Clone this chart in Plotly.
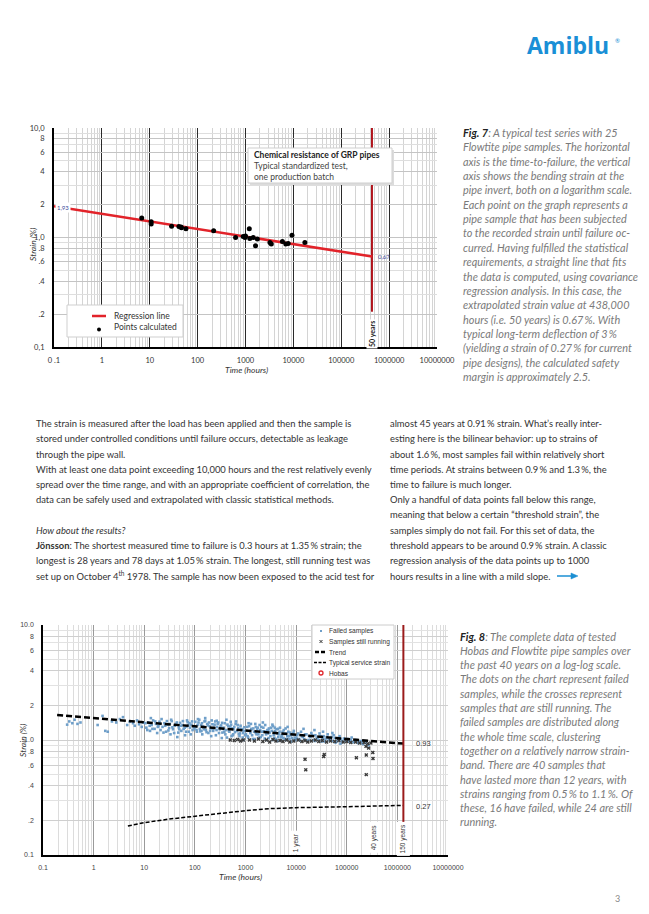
import math
import plotly.graph_objects as go

# The page body keeps the browser's default 8px margin, so the figure is drawn 16px
# smaller and every page position (in window pixels) is mapped through OFF.
OFF = 8
FW, FH = 649 - 2 * OFF, 914 - 2 * OFF
def X(px): return (px - OFF) / FW
def Y(py): return 1 - (py - OFF) / FH

# ---------------- Fig. 7 data ----------------
reg_time = [0.1, 438000]
reg_strain = [1.93, 0.67]
calc_time = [6.8, 10.7, 10.7, 28.6, 40.7, 45, 46, 57, 216, 621, 895, 977, 1000,
             1200, 1230, 1450, 1620, 1770, 3240, 3460, 5900, 6950, 7800, 9350, 17400]
calc_strain = [1.51, 1.39, 1.33, 1.27, 1.26, 1.25, 1.23, 1.20, 1.15, 1.00, 1.02, 1.00, 1.03,
               1.20, 0.98, 1.00, 0.84, 0.97, 0.90, 0.87, 0.92, 0.87, 0.88, 1.05, 0.90]
fifty_years_h = 438000

# ---------------- Fig. 8 data ----------------
failed_time = [
    0.30, 0.33, 0.38, 0.42, 0.48, 0.55,
    1.2, 1.5, 1.7, 1.9, 2.3, 2.8, 3.3, 3.8, 4.6, 5.2, 6.0, 6.5, 7.2, 7.9, 8.9, 9.5,
    11, 12, 13, 14, 15, 16, 17, 18, 19, 20, 21, 23, 25, 27, 29, 31, 33, 35, 37, 40, 42, 45, 48, 51,
    54, 57, 60, 64, 68, 72, 76, 80, 85, 90, 95, 13.5, 22, 34, 47, 70,
    10.5, 11.5, 12.8, 14.5, 16.5, 18.5, 20.5, 24, 26, 28, 30, 32, 36, 39, 44, 49, 53, 58, 63, 67,
    74, 78, 83, 88, 98,
    105, 110, 118, 125, 132, 140, 148, 155, 165, 175, 185, 195, 205, 215, 230, 245, 260, 275, 290, 310,
    330, 350, 370, 390, 410, 430, 455, 480, 510, 540, 570, 600, 640, 680, 720, 760, 800, 850, 900, 950,
    115, 160, 210, 270, 340, 420, 520, 650, 780, 920, 135, 230, 380, 560, 870,
    102, 108, 113, 122, 128, 138, 145, 152, 160, 170, 180, 190, 200, 222, 238, 252, 268, 282, 300, 320,
    345, 360, 400, 440, 470, 500, 530, 580, 620, 700, 740, 820, 880, 940, 990,
    1050, 1100, 1180, 1250, 1320, 1400, 1480, 1560, 1650, 1750, 1850, 1950, 2050, 2150, 2300, 2450,
    2600, 2750, 2900, 3100, 3300, 3500, 3700, 3900, 4100, 4300, 4550, 4800, 5100, 5400, 5700, 6000,
    6400, 6800, 7200, 7600, 8000, 8500, 9000, 9500,
    1150, 1600, 2200, 2800, 3400, 4400, 5200, 6600, 7800, 9200, 1300, 2500, 3800, 6200, 8800,
    1020, 1080, 1130, 1220, 1280, 1350, 1430, 1520, 1600, 1700, 1800, 1900, 2000, 2100, 2250, 2400,
    2550, 2700, 2850, 3000, 3200, 3400, 3600, 3800, 4000, 4200, 4450, 4700, 5000, 5300, 5600, 5900,
    6300, 6700, 7000, 7400, 7900, 8300, 8700, 9700,
    10500, 11500, 12500, 13500, 15000, 16500, 18000, 20000, 22000, 24000, 26500, 29000, 32000, 35000,
    38000, 42000, 46000, 50000, 55000, 60000, 66000, 72000, 80000, 88000, 96000,
    14000, 23000, 34000, 52000, 75000,
    10200, 11000, 12000, 13000, 14500, 16000, 17500, 19000, 21000, 23500, 25500, 28000, 30500, 33500,
    37000, 40000, 44000, 48000, 53000, 58000, 63000, 69000, 76000, 84000, 92000,
    105000, 115000, 125000, 140000, 155000, 170000, 190000, 210000, 240000, 270000,
    110000, 120000, 135000, 150000, 165000, 180000, 200000, 230000]
failed_strain = [
    1.36, 1.45, 1.40, 1.50, 1.38, 1.42,
    1.35, 1.62, 1.20, 1.18, 1.45, 1.42, 1.52, 1.58, 1.35, 1.44, 1.40, 1.33, 1.48, 1.37, 1.30, 1.42,
    1.28, 1.42, 1.20, 1.35, 1.48, 1.25, 1.38, 1.15, 1.32, 1.44, 1.22, 1.30, 1.40, 1.18, 1.36, 1.27,
    1.12, 1.46, 1.24, 1.33, 1.38, 1.06, 1.29, 1.41, 1.20, 1.35, 1.25, 1.10, 1.31, 1.43, 1.18, 1.28,
    1.36, 1.22, 1.30, 1.55, 1.52, 1.50, 1.16, 1.48,
    1.40, 1.22, 1.33, 1.25, 1.45, 1.30, 1.38, 1.16, 1.33, 1.46, 1.21, 1.38, 1.29, 1.15, 1.42, 1.24,
    1.33, 1.46, 1.28, 1.18, 1.34, 1.40, 1.12, 1.45, 1.26,
    1.30, 1.18, 1.42, 1.25, 1.35, 1.12, 1.28, 1.45, 1.22, 1.38, 1.15, 1.32, 1.26, 1.48, 1.20, 1.36,
    1.10, 1.30, 1.42, 1.24, 1.34, 1.16, 1.28, 1.40, 1.22, 1.05, 1.32, 1.18, 1.44, 1.26, 1.12, 1.30,
    1.38, 1.20, 1.27, 1.08, 1.33, 1.22, 1.15, 1.29,
    1.52, 1.55, 1.08, 1.47, 1.04, 1.50, 1.36, 1.45, 1.14, 1.00, 1.20, 1.25, 1.18, 1.10, 1.24,
    1.44, 1.22, 1.35, 1.50, 1.19, 1.40, 1.31, 1.24, 1.47, 1.17, 1.34, 1.42, 1.20, 1.37, 1.28, 1.45,
    1.22, 1.38, 1.15, 1.30, 1.41, 1.25, 1.12, 1.36, 1.20, 1.31, 1.08, 1.24, 1.17, 1.35, 1.13, 1.25,
    1.05, 1.20, 1.10,
    1.20, 1.08, 1.32, 1.15, 1.25, 1.02, 1.18, 1.38, 1.12, 1.28, 1.05, 1.22, 1.30, 1.10, 1.19, 1.35,
    1.00, 1.14, 1.26, 1.08, 1.20, 1.32, 1.04, 1.16, 1.24, 0.98, 1.12, 1.28, 1.06, 1.18, 1.22, 1.02,
    1.14, 1.30, 1.08, 1.16, 0.97, 1.12, 1.20, 1.05,
    1.40, 1.30, 1.42, 1.22, 1.36, 1.25, 1.10, 1.02, 1.12, 1.00, 1.24, 1.18, 1.28, 1.26, 1.15,
    1.12, 1.30, 1.05, 1.20, 1.38, 1.10, 1.26, 1.02, 1.15, 1.24, 1.12, 1.35, 1.06, 1.18, 1.28, 1.03,
    1.12, 1.22, 1.04, 1.16, 1.28, 1.00, 1.10, 1.20, 1.02, 1.14, 1.06, 1.18, 1.00, 1.10, 1.04, 1.14,
    1.00, 1.08, 1.18, 1.02, 1.10, 1.04, 1.14, 1.00,
    1.10, 1.02, 1.18, 1.06, 1.12, 0.98, 1.08, 1.15, 1.00, 1.10, 1.05, 1.14, 0.97, 1.08,
    1.02, 1.12, 0.99, 1.06, 1.10, 0.95, 1.04, 1.08, 0.98, 1.03, 1.00,
    1.25, 1.22, 1.18, 1.15, 0.93,
    1.04, 1.14, 0.99, 1.08, 1.02, 1.12, 1.00, 1.06, 1.10, 0.98, 1.04, 1.00, 1.08, 1.03,
    0.97, 1.06, 1.02, 1.00, 0.98, 1.04, 0.97, 1.00, 1.02, 0.96, 0.99,
    1.02, 0.98, 1.05, 0.96, 1.00, 0.94, 0.98, 0.92, 0.95, 0.90,
    0.97, 1.00, 0.96, 0.98, 0.95, 0.97, 0.94, 0.96]

running_time = [500, 600, 700, 800, 900,
                1200, 1500, 1800, 2200, 2600, 3000, 3500, 4000, 4800, 5500, 6500, 7500, 9000,
                11000, 13000, 15000, 17000, 20000, 24000, 28000, 33000, 40000, 48000, 58000,
                70000, 85000, 100000, 120000, 150000, 180000, 220000, 260000, 300000,
                15000, 15500, 35000, 36000, 155000, 243000, 243000, 327000, 330000, 240000, 270000]
running_strain = [1.00, 0.99, 1.01, 0.98, 1.00,
                  1.00, 0.98, 1.02, 0.97, 1.00, 0.96, 1.01, 0.98, 0.99, 0.97, 1.00, 0.96, 0.98,
                  1.00, 0.97, 0.99, 0.96, 0.98, 1.00, 0.97, 0.99, 0.96, 0.98, 0.97,
                  0.99, 0.96, 0.97, 0.95, 0.96, 0.94, 0.95, 0.93, 0.94,
                  0.68, 0.55, 0.72, 0.75, 0.70, 0.50, 0.74, 0.78, 0.69, 0.88, 0.85]

hobas_time = [280, 1260, 1400, 2130, 2130, 2400, 3400, 4250, 4100, 5900, 1560, 1900, 2220, 2350,
              4050, 7800, 9000, 10500, 11700, 12600, 16000, 17000, 17500, 18000, 18500, 19000, 19500,
              20000, 17200, 18200, 19200, 16500, 17800, 18800, 17000, 19000, 17500, 19500,
              29000, 33000, 38000, 44000, 63000, 72000, 93000, 117000, 214000, 250000, 240000]
hobas_strain = [1.63, 1.35, 1.38, 1.48, 1.41, 1.35, 1.44, 1.56, 1.35, 1.34, 1.17, 1.22, 1.20, 0.99,
                1.02, 1.20, 1.45, 1.43, 1.07, 1.10, 1.32, 1.38, 1.35, 1.40, 1.30, 1.36, 1.33,
                1.38, 1.28, 1.42, 1.30, 1.25, 1.34, 1.27, 1.20, 1.12, 1.04, 0.99,
                1.36, 1.40, 1.32, 1.38, 1.20, 1.25, 1.46, 1.27, 1.40, 0.87, 0.94]

trend_time = [0.19, 1314000]
trend_strain = [1.65, 0.93]
service_time = [4.75, 10, 30, 100, 300, 1000, 3000, 10000, 100000, 1314000]
service_strain = [0.179, 0.191, 0.205, 0.218, 0.231, 0.243, 0.253, 0.258, 0.263, 0.27]
one_year_h = 8760
forty_years_h = 350400
hundred_fifty_years_h = 1314000

# ---------------- ticks ----------------
x_ticks = [0.1, 1, 10, 100, 1000, 10000, 100000, 1000000, 10000000]
fig7_x_labels = ['0 .1', '1', '10', '100', '1000', '10000', '100000', '1000000', '10000000']
fig8_x_labels = ['0.1', '1', '10', '100', '1000', '10000', '100000', '1000000', '10000000']
y_ticks = [0.1, 0.2, 0.4, 0.6, 0.8, 1, 2, 4, 6, 8, 10]
fig7_y_labels = ['0,1', '.2', '.4', '.6', '.8', '1,0', '2', '4', '6', '8', '10,0']
fig8_y_labels = ['0.1', '.2', '.4', '.6', '.8', '1.0', '2', '4', '6', '8', '10.0']

x_minor = [k * 10 ** d for d in range(-1, 7) for k in range(2, 10)]
y_minor = [k * 10 ** d for d in range(-1, 1) for k in (3, 5, 7, 9)]

RED = '#e2232a'
DARKRED = '#b0141c'
BLUE_LABEL = '#3b4a9a'
TXT = 'Lato'

fig = go.Figure()

# ---- Fig 7 traces ----
fig.add_trace(go.Scatter(x=[fifty_years_h, fifty_years_h], y=[10, 0.21], mode='lines',
                         line=dict(color=DARKRED, width=2), xaxis='x', yaxis='y', showlegend=False))
fig.add_trace(go.Scatter(x=reg_time, y=reg_strain, mode='lines', line=dict(color=RED, width=2.5),
                         xaxis='x', yaxis='y', showlegend=False))
fig.add_trace(go.Scatter(x=calc_time, y=calc_strain, mode='markers',
                         marker=dict(color='black', size=5), xaxis='x', yaxis='y', showlegend=False))

# ---- Fig 8 traces ----
fig.add_trace(go.Scatter(x=failed_time, y=failed_strain, mode='markers',
                         marker=dict(color='#6f9fc9', size=2.6, symbol='square'),
                         xaxis='x2', yaxis='y2', showlegend=False))
fig.add_trace(go.Scatter(x=running_time, y=running_strain, mode='markers',
                         marker=dict(color='#3a3a3a', size=3.5, symbol='x'),
                         xaxis='x2', yaxis='y2', showlegend=False))
fig.add_trace(go.Scatter(x=trend_time, y=trend_strain, mode='lines',
                         line=dict(color='black', width=2.5, dash='6px,3px'),
                         xaxis='x2', yaxis='y2', showlegend=False))
fig.add_trace(go.Scatter(x=service_time, y=service_strain, mode='lines',
                         line=dict(color='black', width=1.5, dash='4px,2px'),
                         xaxis='x2', yaxis='y2', showlegend=False))
fig.add_trace(go.Scatter(x=hobas_time, y=hobas_strain, mode='markers',
                         marker=dict(color='rgba(0,0,0,0)', size=5, symbol='circle-open',
                                     line=dict(color='#e0262c', width=1.3)),
                         xaxis='x2', yaxis='y2', showlegend=False))
fig.add_trace(go.Scatter(x=[hundred_fifty_years_h, hundred_fifty_years_h], y=[10, 0.19], mode='lines',
                         line=dict(color='#9b1b1b', width=2), xaxis='x2', yaxis='y2', showlegend=False))

def xaxis_cfg(domain, labels, major_col, major_w, minor_col, lw, font):
    return dict(type='log', range=[-1, 7], domain=domain, tickmode='array', tickvals=x_ticks,
                ticktext=labels, showgrid=True, gridcolor=major_col, gridwidth=major_w,
                minor=dict(tickvals=x_minor, showgrid=True, gridcolor=minor_col, gridwidth=1, ticks=''),
                showline=True, linecolor='black', linewidth=lw, zeroline=False, ticks='',
                ticklabelstandoff=5, tickfont=font, fixedrange=True, automargin=False)

def yaxis_cfg(domain, labels, major_col, minor_col, lw, font):
    return dict(type='log', range=[-1, 1], domain=domain, tickmode='array', tickvals=y_ticks,
                ticktext=labels, showgrid=True, gridcolor=major_col, gridwidth=1,
                minor=dict(tickvals=y_minor, showgrid=True, gridcolor=minor_col, gridwidth=1, ticks=''),
                showline=True, linecolor='black', linewidth=lw, zeroline=False, ticks='',
                ticklabelstandoff=6, tickfont=font, fixedrange=True, automargin=False)

f7font = dict(family=TXT, size=7.5, color='#333')
f8font = dict(family='Liberation Sans', size=7, color='#444')

layout = dict(
    width=FW, height=FH, margin=dict(l=0, r=0, t=0, b=0, autoexpand=False),
    paper_bgcolor='white', plot_bgcolor='white', showlegend=False,
    xaxis=xaxis_cfg([X(54), X(437)], fig7_x_labels, '#2a2a2a', 1.2, '#d4d4d4', 2, f7font),
    yaxis=yaxis_cfg([Y(347), Y(128)], fig7_y_labels, '#c4c4c4', '#dedede', 2, f7font),
    xaxis2=xaxis_cfg([X(43), X(448)], fig8_x_labels, '#9a9a9a', 1.3, '#dcdcdc', 1.5, f8font),
    yaxis2=yaxis_cfg([Y(855), Y(625)], fig8_y_labels, '#cfcfcf', '#e2e2e2', 1.5, f8font),
)
layout['xaxis']['anchor'] = 'y'
layout['yaxis']['anchor'] = 'x'
layout['xaxis2']['anchor'] = 'y2'
layout['yaxis2']['anchor'] = 'x2'
fig.update_layout(**layout)

ann = []
shapes = []

def T(x, y, text, size=9, color='#333', family=TXT, xanchor='left', **kw):
    a = dict(x=X(x), y=Y(y), xref='paper', yref='paper', text=text, showarrow=False,
             xanchor=xanchor, yanchor='middle', font=dict(family=family, size=size, color=color))
    a.update(kw)
    ann.append(a)

# ---- logo & page number ----
T(525, 45, '<b>Amiblu</b>', size=23, color='#1a8fd6', family='Open Sans')
T(613, 40, '®', size=6, color='#1a8fd6')
T(617, 898, '3', size=9, color='#888', xanchor='center')

# ---- Fig 7 annotations ----
T(33, 245, '<i>Strain (%)</i>', size=8.5, color='#333', xanchor='center', textangle=-90)
T(246, 370, '<i>Time (hours)</i>', size=8.5, color='#333', xanchor='center')
T(63, 207, '1,93', size=6, color=BLUE_LABEL, xanchor='center', bgcolor='white', borderpad=1)
T(376, 257, '0,67', size=6, color=BLUE_LABEL, xanchor='left')
ann.append(dict(x=math.log10(fifty_years_h), xref='x', y=Y(334), yref='paper', text='<b>50 years</b>',
                textangle=-90, showarrow=False, xanchor='center', yanchor='middle',
                font=dict(family=TXT, size=7, color='#222'), bgcolor='white', borderpad=1))

# title box
shapes.append(dict(type='rect', xref='paper', yref='paper', x0=X(250), x1=X(394), y0=Y(150), y1=Y(185),
                   fillcolor='#dcdcdc', line=dict(width=0), layer='above'))
shapes.append(dict(type='rect', xref='paper', yref='paper', x0=X(248), x1=X(392), y0=Y(148), y1=Y(183),
                   fillcolor='white', line=dict(color='#cfcfcf', width=1), layer='above'))
T(252, 155.5, '<b>Chemical resistance of GRP pipes</b>', size=8.5, color='#222')
T(252, 166.5, 'Typical standardized test,', size=8.5, color='#444')
T(252, 177.5, 'one production batch', size=8.5, color='#444')

# legend box fig 7
shapes.append(dict(type='rect', xref='paper', yref='paper', x0=X(67), x1=X(183), y0=Y(305), y1=Y(337),
                   fillcolor='white', line=dict(color='#cfcfcf', width=1), layer='above'))
shapes.append(dict(type='line', xref='paper', yref='paper', x0=X(92), x1=X(106), y0=Y(316), y1=Y(316),
                   line=dict(color=RED, width=2.5), layer='above'))
shapes.append(dict(type='circle', xref='paper', yref='paper', x0=X(97), x1=X(101), y0=Y(327.5), y1=Y(331.5),
                   fillcolor='black', line=dict(width=0), layer='above'))
T(112, 316, 'Regression line', size=8.5, color='#333')
T(112, 327, 'Points calculated', size=8.5, color='#333')

# ---- Fig 8 annotations ----
T(23, 740, '<i>Strain (%)</i>', size=8.5, color='#333', xanchor='center', textangle=-90)
T(240, 877, '<i>Time (hours)</i>', size=8.5, color='#333', xanchor='center')
T(414, 743, '0.93', size=7.5, color='#333', family='Liberation Sans')
T(414, 806, '0.27', size=7.5, color='#333', family='Liberation Sans')
for t_h, yc, label, shift in [(one_year_h, 843, '1 year', 3), (forty_years_h, 837, '40 years', 0),
                              (hundred_fifty_years_h, 839, '150 years', 0)]:
    ann.append(dict(x=math.log10(t_h), xref='x2', y=Y(yc), yref='paper', text=label, textangle=-90,
                    showarrow=False, xanchor='center', yanchor='middle', xshift=shift,
                    font=dict(family='Liberation Sans', size=6.5, color='#333'), bgcolor='white', borderpad=2))

# legend box fig 8
shapes.append(dict(type='rect', xref='paper', yref='paper', x0=X(312), x1=X(394), y0=Y(625), y1=Y(679),
                   fillcolor='white', line=dict(color='#cccccc', width=1), layer='above'))
leg_rows = [631, 641.5, 652, 662.5, 673]
shapes.append(dict(type='rect', xref='paper', yref='paper', x0=X(320), x1=X(322), y0=Y(630), y1=Y(632),
                   fillcolor='#6f9fc9', line=dict(width=0), layer='above'))
for dx0, dy0, dx1, dy1 in [(-1.5, -1.5, 1.5, 1.5), (-1.5, 1.5, 1.5, -1.5)]:
    shapes.append(dict(type='line', xref='paper', yref='paper', x0=X(321 + dx0), x1=X(321 + dx1),
                       y0=Y(641.5 + dy0), y1=Y(641.5 + dy1), line=dict(color='#333', width=1), layer='above'))
shapes.append(dict(type='line', xref='paper', yref='paper', x0=X(315), x1=X(327), y0=Y(652), y1=Y(652),
                   line=dict(color='black', width=2.5, dash='4px,2px'), layer='above'))
shapes.append(dict(type='line', xref='paper', yref='paper', x0=X(314), x1=X(327), y0=Y(662.5), y1=Y(662.5),
                   line=dict(color='black', width=1.5, dash='3px,1.5px'), layer='above'))
shapes.append(dict(type='circle', xref='paper', yref='paper', x0=X(319), x1=X(323), y0=Y(671), y1=Y(675),
                   line=dict(color='#e0262c', width=1.3), layer='above'))
for yv, lab in zip(leg_rows, ['Failed samples', 'Samples still running', 'Trend',
                              'Typical service strain', 'Hobas']):
    T(327, yv, lab, size=6.6, color='#333', family='Liberation Sans')

# ---- captions ----
cap7 = ['<b>Fig. 7</b>: A typical test series with 25',
        'Flowtite pipe samples. The horizontal',
        'axis is the time-to-failure, the vertical',
        'axis shows the bending strain at the',
        'pipe invert, both on a logarithm scale.',
        'Each point on the graph represents a',
        'pipe sample that has been subjected',
        'to the recorded strain until failure oc-',
        'curred. Having fulfilled the statistical',
        'requirements, a straight line that fits',
        'the data is computed, using covariance',
        'regression analysis. In this case, the',
        'extrapolated strain value at 438,000',
        'hours (i.e. 50 years) is 0.67\u2009%. With',
        'typical long-term deflection of 3\u2009%',
        '(yielding a strain of 0.27\u2009% for current',
        'pipe designs), the calculated safety',
        'margin is approximately 2.5.']
cap8 = ['<b>Fig. 8</b>: The complete data of tested',
        'Hobas and Flowtite pipe samples over',
        'the past 40 years on a log-log scale.',
        'The dots on the chart represent failed',
        'samples, while the crosses represent',
        'samples that are still running. The',
        'failed samples are distributed along',
        'the whole time scale, clustering',
        'together on a relatively narrow strain-',
        'band. There are 40 samples that',
        'have lasted more than 12 years, with',
        'strains ranging from 0.5\u2009% to 1.1\u2009%. Of',
        'these, 16 have failed, while 24 are still',
        'running.']

def caption(lines, x0, y0, step):
    for i, line in enumerate(lines):
        if line.startswith('<b>'):
            head, rest = line.split('</b>', 1)
            text = '<span style="color:#222"><i>' + head + '</b></i></span><i>' + rest + '</i>'
        else:
            text = '<i>' + line + '</i>'
        T(x0, y0 + i * step, text, size=10.9, color='#7a7a7a')

caption(cap7, 461, 132.5, 14.35)
caption(cap8, 458, 636, 14.3)

left_col = ['The strain is measured after the load has been applied and then the sample is',
            'stored under controlled conditions until failure occurs, detectable as leakage',
            'through the pipe wall.',
            'With at least one data point exceeding 10,000 hours and the rest relatively evenly',
            'spread over the time range, and with an appropriate coefficient of correlation, the',
            'data can be safely used and extrapolated with classic statistical methods.',
            '',
            '<i>How about the results?</i>',
            '<b>Jönsson</b>: The shortest measured time to failure is 0.3 hours at 1.35\u2009% strain; the',
            'longest is 28 years and 78 days at 1.05\u2009% strain. The longest, still running test was',
            'set up on October 4<sup>th</sup> 1978. The sample has now been exposed to the acid test for']
right_col = ['almost 45 years at 0.91\u2009% strain. What\u2019s really inter-',
             'esting here is the bilinear behavior: up to strains of',
             'about 1.6\u2009%, most samples fail within relatively short',
             'time periods. At strains between 0.9\u2009% and 1.3\u2009%, the',
             'time to failure is much longer.',
             'Only a handful of data points fall below this range,',
             'meaning that below a certain \u201cthreshold strain\u201d, the',
             'samples simply do not fail. For this set of data, the',
             'threshold appears to be around 0.9\u2009% strain. A classic',
             'regression analysis of the data points up to 1000',
             'hours results in a line with a mild slope.']
for i, line in enumerate(left_col):
    if line:
        T(34, 423.5 + i * 15.25, line, size=9.4, color='#333')
for i, line in enumerate(right_col):
    T(388, 423.5 + i * 15.25, line, size=9.4, color='#333')

# blue arrow after the right column (drawn as shapes)
shapes.append(dict(type='line', xref='paper', yref='paper', x0=X(557), x1=X(573), y0=Y(576), y1=Y(576),
                   line=dict(color='#1b8fd3', width=1.5)))
shapes.append(dict(type='path', xref='paper', yref='paper',
                   path=f'M {X(571)} {Y(573)} L {X(578)} {Y(576)} L {X(571)} {Y(579)} Z',
                   fillcolor='#1b8fd3', line=dict(color='#1b8fd3', width=0.5)))

fig.update_layout(annotations=ann, shapes=shapes)
fig.write_html('out.html')
